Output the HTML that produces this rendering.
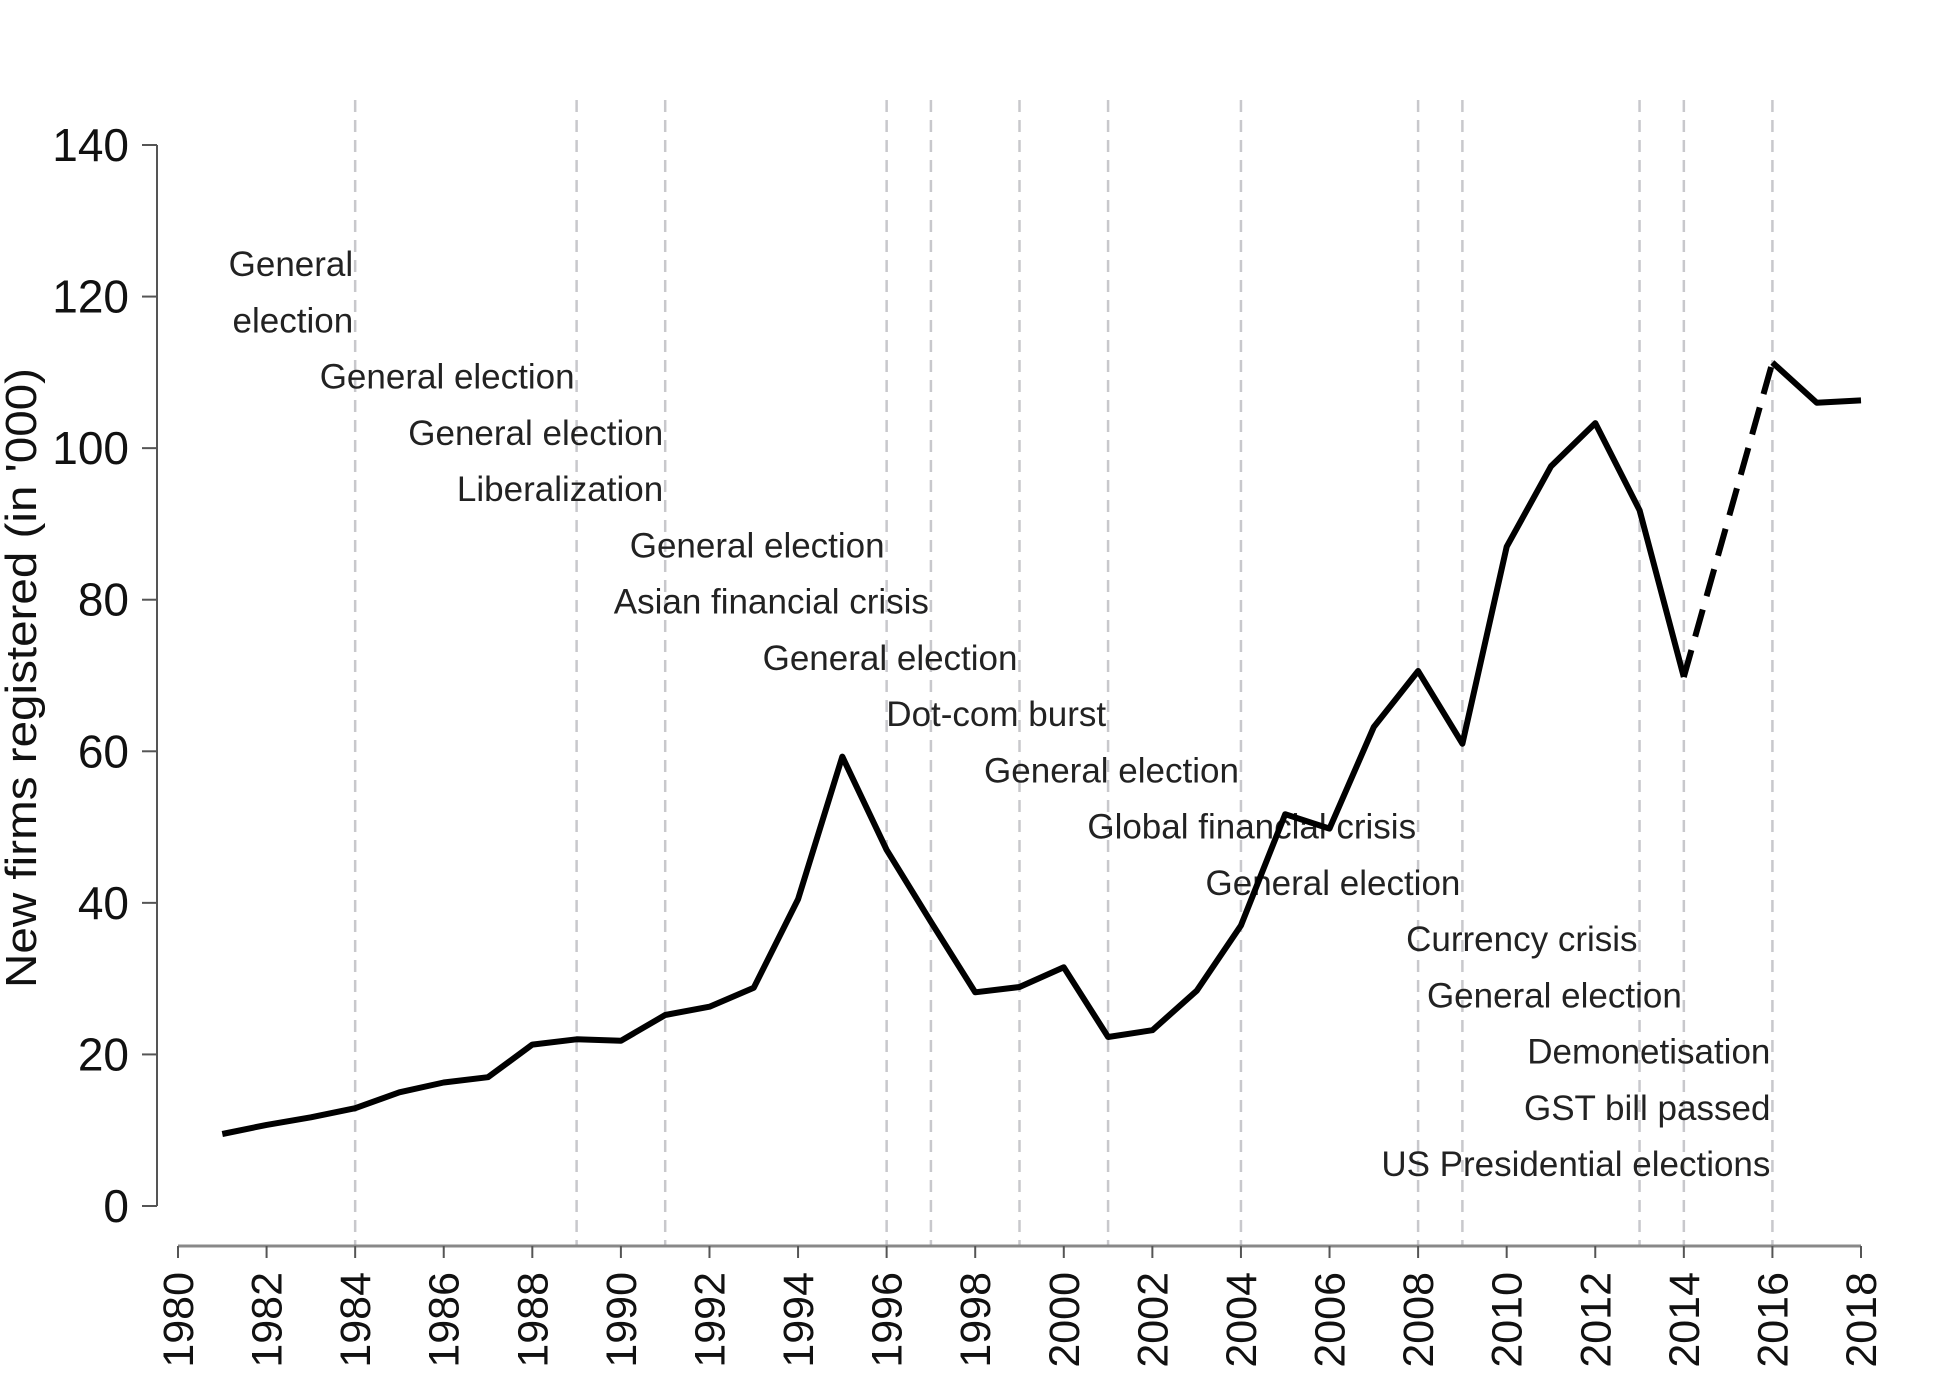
<!DOCTYPE html>
<html><head><meta charset="utf-8"><style>
html,body{margin:0;padding:0;background:#fff;}
svg{display:block;font-family:"Liberation Sans",Arial,sans-serif;}
</style></head><body>
<svg id="chart" width="1950" height="1378" viewBox="0 0 1950 1378" xmlns="http://www.w3.org/2000/svg"></svg>
<script>
const years = [1981,1982,1983,1984,1985,1986,1987,1988,1989,1990,1991,1992,1993,1994,1995,1996,1997,1998,1999,2000,2001,2002,2003,2004,2005,2006,2007,2008,2009,2010,2011,2012,2013,2014];
const values = [9.5,10.7,11.7,12.9,15,16.3,17,21.3,22,21.8,25.2,26.3,28.8,40.5,59.3,47,37.5,28.2,28.9,31.5,22.3,23.2,28.4,37,51.7,49.8,63.2,70.6,61,87,97.6,103.3,91.8,69.8];
const dashYears = [2014,2016];
const dashValues = [69.8,111.3];
const tailYears = [2016,2017,2018];
const tailValues = [111.3,106,106.3];
const yTicks = [0,20,40,60,80,100,120,140];
const xTicks = [1980,1982,1984,1986,1988,1990,1992,1994,1996,1998,2000,2002,2004,2006,2008,2010,2012,2014,2016,2018];
const eventYears = [1984,1989,1991,1996,1997,1999,2001,2004,2008,2009,2013,2014,2016];
const annoLabels = ["General","election","General election","General election","Liberalization","General election","Asian financial crisis","General election","Dot-com burst","General election","Global financial crisis","General election","Currency crisis","General election","Demonetisation","GST bill passed","US Presidential elections"];
const annoYears = [1984,1984,1989,1991,1991,1996,1997,1999,2001,2004,2008,2009,2013,2014,2016,2016,2016];

const svg = document.getElementById('chart');
const NS = 'http://www.w3.org/2000/svg';
const x = v => 178 + (v - 1980) * (1861 - 178) / 38;
const y = v => 1206 - v * (1206 - 145) / 140;
function mk(tag, attrs, parent){const e=document.createElementNS(NS,tag);for(const k in attrs)e.setAttribute(k,attrs[k]);(parent||svg).appendChild(e);return e;}

eventYears.forEach(yr=>{
  const l = mk('line',{x1:x(yr),x2:x(yr),y1:100,y2:1246,stroke:'#c8c8cc','stroke-width':2.5,'stroke-dasharray':'12,8'});
  
  
});
annoLabels.forEach((t,i)=>{
  const e = mk('text',{x:x(annoYears[i])-2,y:264+i*56.25+12,'text-anchor':'end','font-size':35,fill:'#222'});
  e.textContent = t;
  
  
});
const ya = mk('line',{x1:157,x2:157,y1:145,y2:1206,stroke:'#555','stroke-width':2});


yTicks.forEach(v=>{
  mk('line',{x1:142,x2:157,y1:y(v),y2:y(v),stroke:'#555','stroke-width':2});
  const t = mk('text',{x:129,y:y(v)+16,'text-anchor':'end','font-size':46,fill:'#111'});
  t.textContent = v;
  
  
});
const yt = mk('text',{x:0,y:0,transform:'translate(36,678) rotate(-90)','text-anchor':'middle','font-size':44,fill:'#111',textLength:620,lengthAdjust:'spacingAndGlyphs'});
yt.textContent = "New firms registered (in '000)";


const xa = mk('line',{x1:178,x2:1861,y1:1246,y2:1246,stroke:'#888','stroke-width':3});


xTicks.forEach(v=>{
  mk('line',{x1:x(v),x2:x(v),y1:1246,y2:1258,stroke:'#555','stroke-width':2});
  const t = mk('text',{x:0,y:0,transform:`translate(${x(v)+15},1272) rotate(-90)`,'text-anchor':'end','font-size':43,fill:'#111'});
  t.textContent = v;
  
  
});
function path(xs,vs){return xs.map((v,i)=>(i?'L':'M')+x(v).toFixed(1)+','+y(vs[i]).toFixed(1)).join(' ');}
const p1 = mk('path',{d:path(years,values),fill:'none',stroke:'#000','stroke-width':6,'stroke-linejoin':'round'});


const p2 = mk('path',{d:path(dashYears,dashValues),fill:'none',stroke:'#000','stroke-width':6,'stroke-dasharray':'28,14'});


const p3 = mk('path',{d:path(tailYears,tailValues),fill:'none',stroke:'#000','stroke-width':6,'stroke-linejoin':'round'});


</script>
</body></html>
